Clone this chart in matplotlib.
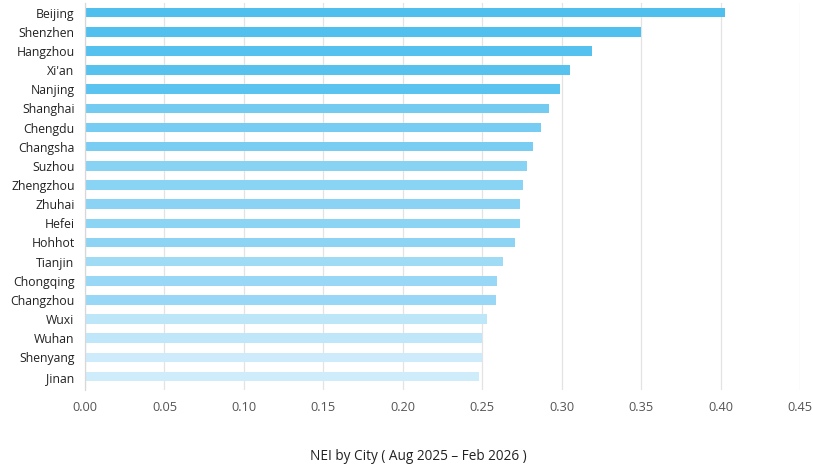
import matplotlib
matplotlib.use('Agg')
import matplotlib.pyplot as plt

# data
cities = ['Beijing', 'Shenzhen', 'Hangzhou', "Xi'an", 'Nanjing', 'Shanghai',
          'Chengdu', 'Changsha', 'Suzhou', 'Zhengzhou', 'Zhuhai', 'Hefei',
          'Hohhot', 'Tianjin', 'Chongqing', 'Changzhou', 'Wuxi', 'Wuhan',
          'Shenyang', 'Jinan']
nei = [0.403, 0.350, 0.319, 0.305, 0.299, 0.292, 0.287, 0.282, 0.278,
       0.2755, 0.274, 0.2736, 0.2706, 0.263, 0.2595, 0.2586, 0.2527,
       0.2501, 0.2498, 0.2481]
bar_colors = ['#4FBFEE', '#52C0EE', '#55C1EE', '#58C2EF', '#5BC3EF',
              '#74CBF1', '#76CCF2', '#79CDF2', '#88D2F4', '#89D3F4',
              '#8AD3F4', '#8BD4F4', '#8DD4F4', '#A0DBF6', '#98D8F6',
              '#98D8F6', '#BEE6F9', '#C0E7F9', '#CDEBFA', '#CFECFA']
xticks = [0.00, 0.05, 0.10, 0.15, 0.20, 0.25, 0.30, 0.35, 0.40, 0.45]

plt.rcParams['font.family'] = ['Open Sans', 'DejaVu Sans']

fig = plt.figure(figsize=(8.13, 4.70), dpi=100)
ax = fig.add_axes([85 / 813, 1 - 390 / 470, 715 / 813, 387 / 470])

ypos = list(range(len(cities)))
ax.barh(ypos, nei, height=0.5, color=bar_colors, zorder=2)

ax.set_xlim(0, 0.45)
ax.set_ylim(19.7, -0.5)
ax.set_xticks(xticks)
ax.set_xticklabels([f'{t:.2f}' for t in xticks], fontsize=9.2, color='#555555')
ax.set_yticks(ypos)
ax.set_yticklabels(cities, fontsize=8.8, color='#222222')
ax.tick_params(axis='both', length=0)
ax.tick_params(axis='x', pad=8)
ax.tick_params(axis='y', pad=7.5)

ax.grid(axis='x', color='#E3E3E3', linewidth=0.9, zorder=0)
for side in ['top', 'right', 'bottom']:
    ax.spines[side].set_visible(False)
ax.spines['left'].set_color('#D8D8D8')
ax.spines['left'].set_linewidth(0.9)

fig.text(418 / 813, 1 - 457 / 470, 'NEI by City ( Aug 2025 \u2013 Feb 2026 )',
         ha='center', va='center', fontsize=9.8, color='#222222')

fig.savefig('out.png', dpi=100)
